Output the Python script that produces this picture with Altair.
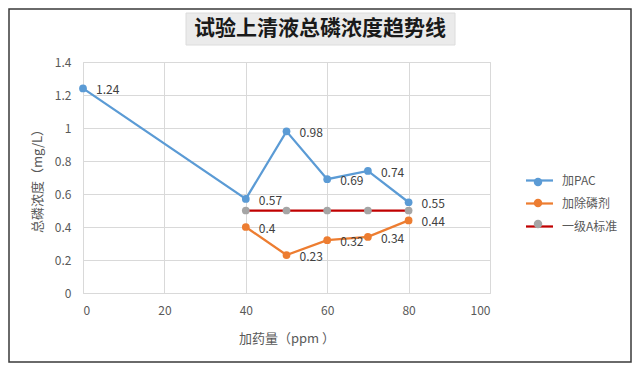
import altair as alt
import pandas as pd

title_text = "试验上清液总磷浓度趋势线"
series_names = ["加PAC", "加除磷剂", "一级A标准"]
pac_x = [0, 40, 50, 60, 70, 80]
pac_y = [1.24, 0.57, 0.98, 0.69, 0.74, 0.55]
agent_x = [40, 50, 60, 70, 80]
agent_y = [0.4, 0.23, 0.32, 0.34, 0.44]
std_x = [40, 50, 60, 70, 80]
std_y = [0.5, 0.5, 0.5, 0.5, 0.5]
x_ticks = [0, 20, 40, 60, 80, 100]
y_ticks = [0, 0.2, 0.4, 0.6, 0.8, 1.0, 1.2, 1.4]
x_title = "加药量（ppm ）"
y_title = "总磷浓度（mg/L）"
line_colors = ["#5B9BD5", "#ED7D31", "#C00000"]
marker_colors = ["#5B9BD5", "#ED7D31", "#A5A5A5"]

rows = []
for name, xs, ys in zip(series_names, [pac_x, agent_x, std_x], [pac_y, agent_y, std_y]):
    for xv, yv in zip(xs, ys):
        rows.append({"ppm": xv, "tp": yv, "series": name})
df = pd.DataFrame(rows)

FONT = "Noto Sans CJK SC"
W, H = 407, 231

LINE_SYMBOL = "M-1.5,0H1.5"
DOT_SYMBOL = "M-0.47,0A0.47,0.47,0,1,0,0.47,0A0.47,0.47,0,1,0,-0.47,0Z"

common = dict(
    title=None, orient="none", legendX=446,
    symbolSize=324, labelFont=FONT, labelFontSize=12, labelColor="#595959",
    rowPadding=6, labelOffset=12,
)
line_legend = alt.Legend(symbolType=LINE_SYMBOL, symbolStrokeWidth=2.25, legendY=108, **common)
dot_legend = alt.Legend(symbolType=DOT_SYMBOL, symbolStrokeWidth=0, labelExpr="' '",
                        legendY=111, **common)

stroke_scale = alt.Scale(domain=series_names, range=line_colors)
fill_scale = alt.Scale(range=marker_colors)

base = alt.Chart(df).encode(
    x=alt.X("ppm:Q", scale=alt.Scale(domain=[0, 100], nice=False),
            axis=alt.Axis(values=x_ticks, title=x_title, titleY=45, titleBaseline="middle",
                          labelPadding=12)),
    y=alt.Y("tp:Q", scale=alt.Scale(domain=[0, 1.4], nice=False),
            axis=alt.Axis(values=y_ticks, format=".1~f", title=y_title, titleX=-46,
                          titleY=H / 2, titleAngle=-90, titleBaseline="middle",
                          titleAlign="center", labelPadding=12)),
)

lines = base.mark_line(strokeWidth=2.25).encode(
    stroke=alt.Stroke("series:N", scale=stroke_scale, legend=line_legend)
)
points = base.mark_circle(size=60, opacity=1).encode(
    fill=alt.Fill("series:N", scale=fill_scale, sort=series_names, legend=dot_legend)
)
labels = base.mark_text(align="left", baseline="middle", dx=13, dy=2, fontSize=12,
                        font=FONT, color="#404040").encode(
    text=alt.Text("tp:Q", format=".2~f")
).transform_filter(alt.datum.series != series_names[2])

deco = alt.Data(values=[{"t": title_text}])
frame = alt.Chart(deco).mark_rect(fill="transparent", stroke="#3a3a3a", strokeWidth=1.5).encode(
    x=alt.value(-74), x2=alt.value(548), y=alt.value(-53), y2=alt.value(300)
)
title_box = alt.Chart(deco).mark_rect(fill="#ebebeb", stroke="#dcdcdc").encode(
    x=alt.value(103), x2=alt.value(372), y=alt.value(-49), y2=alt.value(-17)
)
title = alt.Chart(deco).mark_text(fontSize=21, fontWeight="bold", font=FONT, color="#1a1a1a").encode(
    x=alt.value(237), y=alt.value(-33), text="t:N"
)

chart = alt.layer(frame, title_box, title, lines, points, labels).properties(
    width=W, height=H,
    autosize=alt.AutoSizeParams(type="none"),
    padding={"left": 75, "top": 54, "right": 142, "bottom": 70},
).configure_view(stroke="#d9d9d9").configure_axis(
    gridColor="#d9d9d9", domain=False, ticks=False,
    labelFont=FONT, labelFontSize=12, labelColor="#595959",
    titleFont=FONT, titleFontSize=13, titleColor="#595959", titleFontWeight="normal",
)

chart.save("out.html", embed_options={"renderer": "svg", "actions": False})
